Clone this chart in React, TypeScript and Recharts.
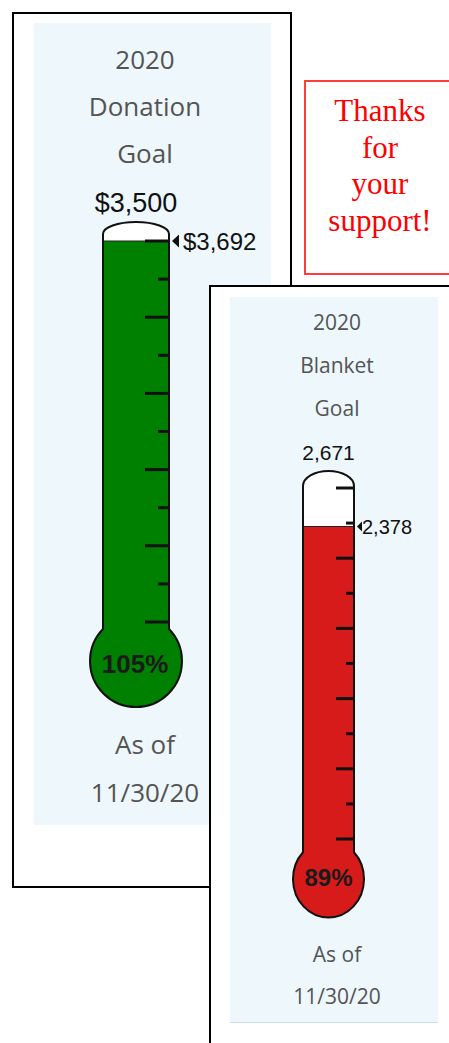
import React from 'react';
import { BarChart, Bar, XAxis, YAxis } from 'recharts';

const PAGE_W = 449;
const PAGE_H = 1043;

// ---- data ----
const donationLabels = ['Donation'];
const donationRaised = [3692];
const donationGoal = [3500];
const blanketLabels = ['Blanket'];
const blanketRaised = [2378];
const blanketGoal = [2671];
const scaleSteps = [0, 1, 2, 3, 4, 5, 6, 7, 8, 9, 10];
const leftTitle = ['2020', 'Donation', 'Goal'];
const rightTitle = ['2020', 'Blanket', 'Goal'];
const asOfLines = ['As of', '11/30/20'];
const thanksLines = ['Thanks', 'for', 'your', 'support!'];

type Geo = {
  tubeLeft: number;
  tubeRight: number;
  zeroY: number;
  topY: number;
  domeGap: number;
  domeRy: number;
  bulbOffset: number;
  bulbRx: number;
  bulbRy: number;
  fill: string;
  longTick: number;
  shortTick: number;
  goalFont: number;
  goalGap: number;
  valueFont: number;
  pctFont: number;
  pctDx: number;
  pctDy: number;
  prefix: string;
  triW: number;
  triH: number;
  triGap: number;
  labelGap: number;
};

const greenGeo: Geo = {
  tubeLeft: 103,
  tubeRight: 169,
  zeroY: 622,
  topY: 241,
  domeGap: 7,
  domeRy: 12,
  bulbOffset: 39,
  bulbRx: 46,
  bulbRy: 46,
  fill: '#008000',
  longTick: 23,
  shortTick: 10,
  goalFont: 27,
  goalGap: 10,
  valueFont: 24,
  pctFont: 26,
  pctDx: -1,
  pctDy: 3,
  prefix: '$',
  triW: 7,
  triH: 13,
  triGap: 3,
  labelGap: 14,
};

const redGeo: Geo = {
  tubeLeft: 303,
  tubeRight: 354,
  zeroY: 839,
  topY: 488,
  domeGap: 2,
  domeRy: 15,
  bulbOffset: 40,
  bulbRx: 35.5,
  bulbRy: 38.5,
  fill: '#D71A1A',
  longTick: 17,
  shortTick: 7,
  goalFont: 21,
  goalGap: 11,
  valueFont: 20,
  pctFont: 24,
  pctDx: 0,
  pctDy: -2,
  prefix: '',
  triW: 5,
  triH: 10,
  triGap: 3,
  labelGap: 8,
};

const fmt = (prefix: string, v: number) => prefix + v.toLocaleString('en-US');

const makeShape = (g: Geo, goal: number, max: number) => (props: any) => {
  const { x, y, width, height, payload } = props;
  const v: number = payload.value;
  const left = x;
  const right = x + width;
  const cx = x + width / 2;
  const hw = width / 2;
  const baseY = y + height;
  const pxPerUnit = height / v;
  const topY = baseY - pxPerUnit * max;
  const domeBase = topY - g.domeGap;
  const bulbCy = baseY + g.bulbOffset;
  const ratio = Math.min(1, hw / g.bulbRx);
  const jY = bulbCy - g.bulbRy * Math.sqrt(Math.max(0, 1 - ratio * ratio));
  const outline = `M ${left} ${jY} L ${left} ${domeBase} A ${hw} ${g.domeRy} 0 0 1 ${right} ${domeBase} L ${right} ${jY} A ${g.bulbRx} ${g.bulbRy} 0 1 1 ${left} ${jY} Z`;
  const tx = right + g.triGap;
  const pct = Math.round((v / goal) * 100);
  return (
    <g>
      <path d={outline} fill="#ffffff" />
      <rect x={left} y={y} width={width} height={bulbCy - y} fill={g.fill} />
      <ellipse cx={cx} cy={bulbCy} rx={g.bulbRx} ry={g.bulbRy} fill={g.fill} />
      <line x1={left} x2={right} y1={y} y2={y} stroke="#222" strokeWidth={1} />
      <path d={outline} fill="none" stroke="#111" strokeWidth={2} />
      <polygon
        points={`${tx},${y} ${tx + g.triW},${y - g.triH / 2} ${tx + g.triW},${y + g.triH / 2}`}
        fill="#111"
      />
      <text
        x={right + g.labelGap}
        y={y + g.valueFont * 0.36}
        fontFamily="'Liberation Sans', Arial, sans-serif"
        fontSize={g.valueFont}
        fill="#111"
      >
        {fmt(g.prefix, v)}
      </text>
      <text
        x={cx}
        y={domeBase - g.domeRy - g.goalGap}
        textAnchor="middle"
        fontFamily="'Liberation Sans', Arial, sans-serif"
        fontSize={g.goalFont}
        fill="#111"
      >
        {fmt(g.prefix, goal)}
      </text>
      <text
        x={cx + g.pctDx}
        y={bulbCy + g.pctDy}
        textAnchor="middle"
        dominantBaseline="central"
        fontFamily="'Liberation Sans', Arial, sans-serif"
        fontWeight="bold"
        fontSize={g.pctFont}
        fill="#1a1a1a"
      >
        {pct + '%'}
      </text>
    </g>
  );
};

const makeTick = (g: Geo, max: number) => (props: any) => {
  const { y, payload } = props;
  const step = Math.round((payload.value / max) * 10);
  const len = step % 2 === 0 ? g.longTick : g.shortTick;
  const edge = g.tubeRight - 1;
  return (
    <g>
      <line x1={edge - len} x2={edge} y1={y} y2={y} stroke="#111" strokeWidth={3} />
    </g>
  );
};

function Thermometer({ g, labels, raised, goals }: { g: Geo; labels: string[]; raised: number[]; goals: number[] }) {
  const data = labels.map((name, i) => ({ name, value: raised[i] }));
  const max = Math.max(goals[0], raised[0]);
  const ticks = scaleSteps.map((s) => (s * max) / 10);
  const margin1 = { top: g.topY, bottom: PAGE_H - g.zeroY, left: g.tubeLeft, right: PAGE_W - g.tubeRight };
  const margin2 = { top: g.topY, bottom: PAGE_H - g.zeroY, left: g.tubeLeft, right: PAGE_W - g.tubeRight - 30 };
  return (
    <>
      <div style={{ position: 'absolute', left: 0, top: 0 }}>
        <BarChart width={PAGE_W} height={PAGE_H} data={data} barCategoryGap={0} margin={margin1}>
          <XAxis dataKey="name" hide />
          <YAxis orientation="right" domain={[0, max]} hide />
          <Bar dataKey="value" isAnimationActive={false} shape={makeShape(g, goals[0], max)} />
        </BarChart>
      </div>
      <div style={{ position: 'absolute', left: 0, top: 0 }}>
        <BarChart width={PAGE_W} height={PAGE_H} data={data} barCategoryGap={0} margin={margin2}>
          <XAxis dataKey="name" hide />
          <YAxis
            orientation="right"
            width={30}
            domain={[0, max]}
            ticks={ticks}
            interval={0}
            axisLine={false}
            tickLine={false}
            tick={makeTick(g, max)}
          />
          <Bar dataKey="value" fill="none" isAnimationActive={false} />
        </BarChart>
      </div>
    </>
  );
}

const titleFont = "'Open Sans', 'DejaVu Sans', sans-serif";
const grey = '#545454';

function TextLayer({ lines }: { lines: { t: string; x: number; y: number; size: number }[] }) {
  return (
    <svg width={PAGE_W} height={PAGE_H} style={{ position: 'absolute', left: 0, top: 0 }}>
      {lines.map((l, i) => (
        <text key={i} x={l.x} y={l.y} textAnchor="middle" fontFamily={titleFont} fontSize={l.size} fill={grey}>
          {l.t}
        </text>
      ))}
    </svg>
  );
}

export default function App() {
  const leftLines = [
    { t: leftTitle[0], x: 145, y: 69, size: 26 },
    { t: leftTitle[1], x: 145, y: 116, size: 26 },
    { t: leftTitle[2], x: 145, y: 163, size: 26 },
    { t: asOfLines[0], x: 145, y: 754, size: 26 },
    { t: asOfLines[1], x: 145, y: 802, size: 26 },
  ];
  const rightLines = [
    { t: rightTitle[0], x: 337, y: 330, size: 21 },
    { t: rightTitle[1], x: 337, y: 373, size: 21 },
    { t: rightTitle[2], x: 337, y: 416, size: 21 },
    { t: asOfLines[0], x: 337, y: 962, size: 21 },
    { t: asOfLines[1], x: 337, y: 1004, size: 21 },
  ];
  return (
    <div
      style={{
        position: 'absolute',
        left: 0,
        top: 0,
        width: PAGE_W,
        height: PAGE_H,
        overflow: 'hidden',
        background: '#ffffff',
      }}
    >
      {/* left panel */}
      <div
        style={{
          position: 'absolute',
          left: 12,
          top: 12,
          width: 280,
          height: 876,
          border: '2px solid #000',
          boxSizing: 'border-box',
          background: '#fff',
        }}
      />
      <div style={{ position: 'absolute', left: 34, top: 23, width: 237, height: 802, background: '#EDF7FC' }} />
      <TextLayer lines={leftLines} />
      <Thermometer g={greenGeo} labels={donationLabels} raised={donationRaised} goals={donationGoal} />

      {/* thanks box */}
      <div
        style={{
          position: 'absolute',
          left: 304,
          top: 80,
          width: 160,
          height: 195,
          border: '2px solid #FF3B3B',
          boxSizing: 'border-box',
          background: '#fff',
        }}
      />
      <svg width={PAGE_W} height={PAGE_H} style={{ position: 'absolute', left: 0, top: 0 }}>
        {thanksLines.map((t, i) => (
          <text
            key={i}
            x={380}
            y={121 + i * 36.7}
            textAnchor="middle"
            fontFamily="'Liberation Serif', 'Times New Roman', serif"
            fontSize={31}
            fill="#FF0000"
          >
            {t}
          </text>
        ))}
      </svg>

      {/* right panel */}
      <div
        style={{
          position: 'absolute',
          left: 209,
          top: 285,
          width: 260,
          height: 800,
          border: '2px solid #000',
          boxSizing: 'border-box',
          background: '#fff',
        }}
      />
      <div
        style={{
          position: 'absolute',
          left: 230,
          top: 297,
          width: 208,
          height: 725,
          background: '#EDF7FC',
          borderBottom: '1px solid #CFDDE6',
        }}
      />
      <TextLayer lines={rightLines} />
      <Thermometer g={redGeo} labels={blanketLabels} raised={blanketRaised} goals={blanketGoal} />
    </div>
  );
}
